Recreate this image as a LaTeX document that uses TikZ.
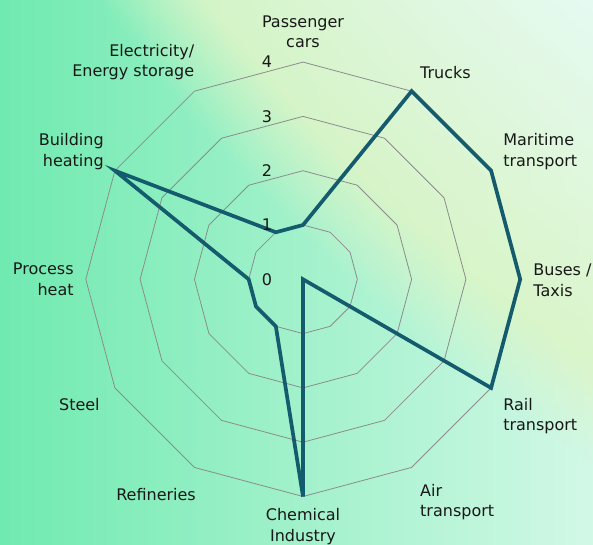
\documentclass[tikz,border=0pt]{standalone}
\usepackage{fontspec}
\setmainfont{DejaVu Sans}
\usetikzlibrary{fadings}

\definecolor{bgleft}{RGB}{112,234,176}
\definecolor{bgright}{RGB}{210,248,230}
\definecolor{gridgray}{RGB}{140,140,140}
\definecolor{seriesteal}{RGB}{21,91,110}
\definecolor{labeltext}{RGB}{24,24,24}

\pgfdeclareradialshading{glowshade}{\pgfpointorigin}{rgb(0bp)=(0.90,0.985,0.95); rgb(16.9bp)=(0.90,0.985,0.95); rgb(18.75bp)=(0.88,0.97,0.86); rgb(20.5bp)=(0.86,0.96,0.78); rgb(50bp)=(0.86,0.96,0.78)}
\pgfdeclareradialshading{glowmask}{\pgfpointorigin}{color(0bp)=(white); color(1350bp)=(white); color(1630bp)=(black!10!white); color(1715bp)=(black); color(2500bp)=(black)}
\pgfdeclarefading{glowfade}{\pgfuseshading{glowmask}}

\begin{document}
\begin{tikzpicture}[x=1pt,y=1pt,
    axislabel/.style={font=\fontsize{16}{20.5}\selectfont, text=labeltext, inner sep=0pt},
    ticklabel/.style={font=\fontsize{16}{20.5}\selectfont, text=labeltext, inner sep=0pt},
    gridline/.style={draw=gridgray, line width=0.8pt},
    seriesline/.style={draw=seriesteal, line width=3.7pt}]
    \useasboundingbox (0,0) rectangle (593,544);
    \fill[left color=bgleft, right color=bgright] (0,0) rectangle (593,544);
    \begin{scope}
        \clip (0,0) rectangle (593,544);
        \shade[shading=glowshade, path fading=glowfade, fit fading=false,
            fading transform={shift={(1500,1544)}}] (1500,1544) circle[radius=2000];
    \end{scope}

    \begin{scope}[shift={(303,264.7)}]
        \coordinate (c) at (0,0);
        \foreach \k in {0,...,11}
            \coordinate (v\k) at ({90-30*\k}:217.2);

        \foreach \r in {1,...,4}
            \draw[gridline] (90:{54.3*\r}) \foreach \a in {60,30,...,-240} {-- ({\a}:{54.3*\r})} -- cycle;

        \foreach \v [count=\k from 0] in {1,4,4,4,4,0,4,1,1,1,4,1}
            \coordinate (p\k) at ({90-30*\k}:{54.3*\v});
        \draw[seriesline] (p0) \foreach \k in {1,...,11} {-- (p\k)} -- cycle;

        \foreach \t in {0,...,4}
            \node[ticklabel] (tick\t) at (-36,{54.3*\t}) {\t};
    \end{scope}

    \node[axislabel, align=center, anchor=south, yshift=14pt] (lab0) at (v0) {Passenger\\cars};
    \node[axislabel, anchor=south west, xshift=8.4pt, yshift=12.2pt] (lab1) at (v1) {Trucks};
    \node[axislabel, align=left, anchor=south west, xshift=12pt, yshift=0.7pt] (lab2) at (v2) {Maritime\\transport};
    \node[axislabel, align=left, anchor=west, xshift=13pt, yshift=-1pt] (lab3) at (v3) {Buses /\\Taxis};
    \node[axislabel, align=left, anchor=north west, xshift=12pt, yshift=-10pt] (lab4) at (v4) {Rail\\transport};
    \node[axislabel, align=left, anchor=north west, xshift=8.4pt, yshift=-16.6pt] (lab5) at (v5) {Air\\transport};
    \node[axislabel, align=center, anchor=north, yshift=-12pt] (lab6) at (v6) {Chemical\\Industry};
    \node[axislabel, anchor=north east, xshift=1.6pt, yshift=-20.6pt] (lab7) at (v7) {Refineries};
    \node[axislabel, anchor=north east, xshift=-15pt, yshift=-10pt] (lab8) at (v8) {Steel};
    \node[axislabel, align=right, anchor=east, xshift=-12pt] (lab9) at (v9) {Process\\heat};
    \node[axislabel, align=right, anchor=south east, xshift=-11pt, yshift=0.7pt] (lab10) at (v10) {Building\\heating};
    \node[axislabel, align=right, anchor=south east, yshift=11pt] (lab11) at (v11) {Electricity/\\Energy storage};
\end{tikzpicture}
\end{document}
